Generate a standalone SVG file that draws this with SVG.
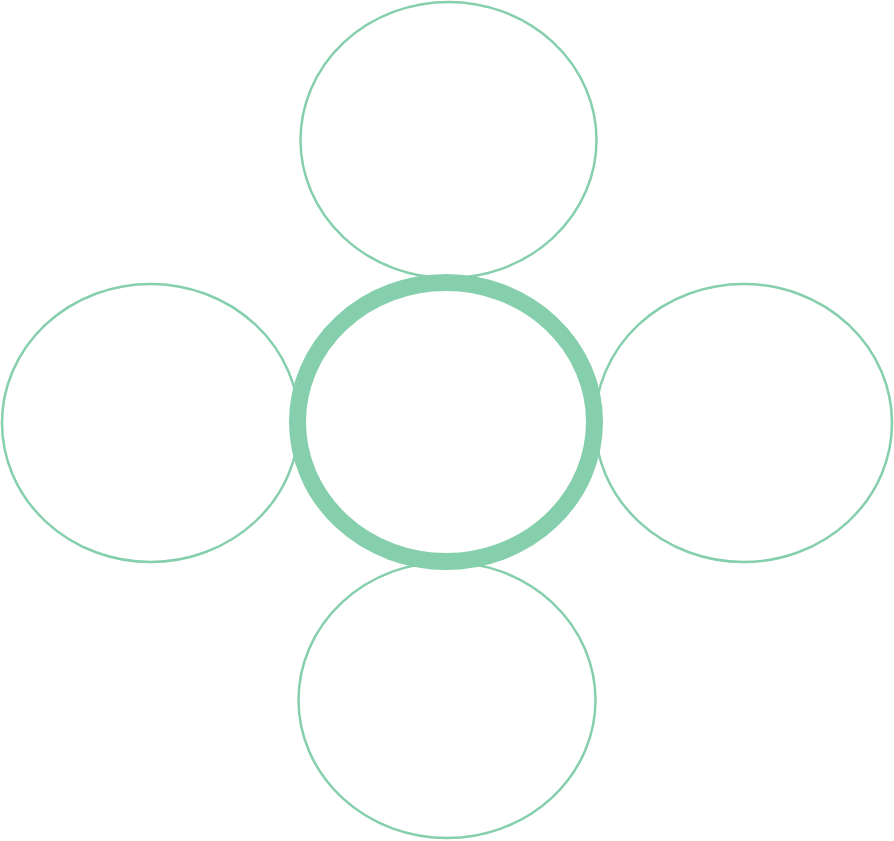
<svg xmlns="http://www.w3.org/2000/svg" width="894" height="841" viewBox="0 0 894 841">
<style>
.outer{fill:#fff;stroke:#86cfac;stroke-width:2.5}
.hub{fill:#fff;stroke:#86cfac;stroke-width:17}
</style>
<rect width="894" height="841" fill="#fff"/>
<g id="top"><ellipse class="outer" cx="448.5" cy="140" rx="148" ry="138"/></g>
<g id="left"><ellipse class="outer" cx="150.5" cy="423" rx="148.5" ry="139"/></g>
<g id="right"><ellipse class="outer" cx="743.5" cy="423" rx="148.5" ry="139"/></g>
<g id="bottom"><ellipse class="outer" cx="447" cy="700" rx="148.5" ry="138"/></g>
<g id="center"><ellipse class="hub" cx="446" cy="422" rx="148.5" ry="139.5"/></g>
<g id="connectors"></g>
</svg>
